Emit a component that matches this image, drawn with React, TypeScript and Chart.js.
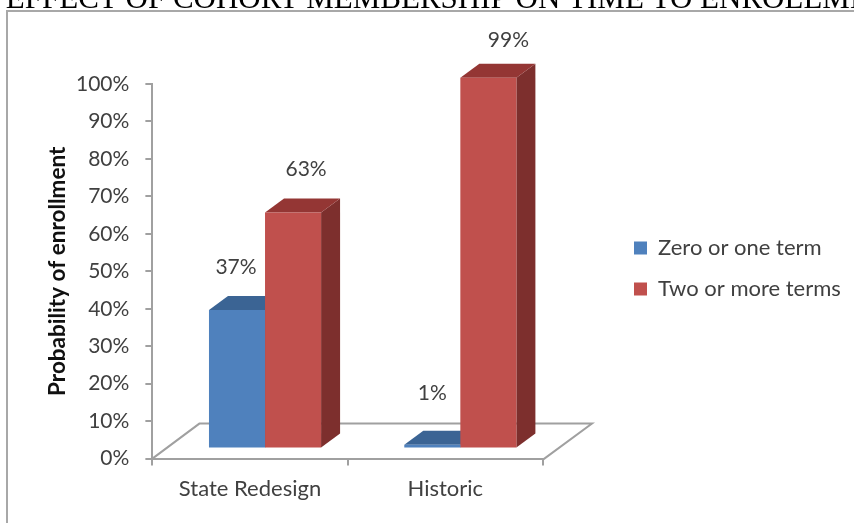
import React, { useEffect, useRef } from "react";
import { Chart, registerables } from "chart.js";

Chart.register(...registerables);

const categories = ["State Redesign", "Historic"];
const seriesNames = ["Zero or one term", "Two or more terms"];
const zeroOrOneTerm = [37, 1];
const twoOrMoreTerms = [63, 99];
const yTicks = [0, 10, 20, 30, 40, 50, 60, 70, 80, 90, 100];
const titleText = "EFFECT OF COHORT MEMBERSHIP ON TIME TO ENROLLMENT";

const FONT = "Lato, Carlito, sans-serif";
const INK = "#404040";
const GRID = "#a0a0a0";
const DEPTH_X = 19;
const DEPTH_Y = 14;
const LIFT = 10;
const SHIFT = 15;
const LEGEND_PAD = 19;
const LABEL_NUDGE = [
  [[-1, -43], [0, -52]],
  [[13, -43], [20, -38]],
];

const fronts = ["#4f81bd", "#c0504d"];
const tops = ["#3b6494", "#943634"];
const sides = ["#345a88", "#7d2f2d"];

const poly = (ctx: CanvasRenderingContext2D, pts: number[][], fill: string) => {
  ctx.beginPath();
  pts.forEach((p, i) => (i ? ctx.lineTo(p[0], p[1]) : ctx.moveTo(p[0], p[1])));
  ctx.closePath();
  ctx.fillStyle = fill;
  ctx.fill();
};

const threeD = {
  id: "threeD",
  afterLayout(chart: any) {
    const lg = chart.legend;
    lg.left = 634 - LEGEND_PAD;
    lg.right = 854;
    lg.width = lg.right - lg.left;
    lg.top = 218;
    lg.bottom = 330;
    lg.height = 112;
  },
  beforeDraw(chart: any) {
    const { ctx } = chart;
    ctx.save();
    ctx.font = "31px 'Liberation Serif', serif";
    ctx.fillStyle = "#000";
    ctx.textAlign = "center";
    ctx.textBaseline = "alphabetic";
    ctx.fillText(titleText, 458, 8);
    ctx.restore();
  },
  beforeDatasetsDraw(chart: any) {
    const { ctx, chartArea: a } = chart;
    const y0 = a.bottom;
    ctx.save();
    ctx.strokeStyle = GRID;
    ctx.lineWidth = 2;
    ctx.beginPath();
    ctx.moveTo(a.left, y0);
    ctx.lineTo(a.left + 47, y0 - 35);
    ctx.lineTo(a.right + 49, y0 - 35);
    ctx.lineTo(a.right, y0 + 1);
    ctx.stroke();
    ctx.restore();

    ctx.save();
    ctx.translate(SHIFT, -LIFT);
    chart.data.datasets.forEach((_: any, d: number) => {
      chart.getDatasetMeta(d).data.forEach((el: any) => {
        const p = el.getProps(["x", "y", "base", "width"], true);
        const l = p.x - p.width / 2;
        const r = p.x + p.width / 2;
        poly(ctx, [[r, p.y], [r + DEPTH_X, p.y - DEPTH_Y], [r + DEPTH_X, p.base - DEPTH_Y], [r, p.base]], sides[d]);
        poly(ctx, [[l, p.y], [l + DEPTH_X, p.y - DEPTH_Y], [r + DEPTH_X, p.y - DEPTH_Y], [r, p.y]], tops[d]);
      });
    });
  },
  afterDatasetsDraw(chart: any) {
    const { ctx } = chart;
    ctx.restore();
    ctx.save();
    ctx.font = `21px ${FONT}`;
    ctx.fillStyle = INK;
    ctx.textAlign = "center";
    ctx.textBaseline = "middle";
    chart.data.datasets.forEach((ds: any, d: number) => {
      chart.getDatasetMeta(d).data.forEach((el: any, i: number) => {
        const p = el.getProps(["x", "y"], true);
        const [nx, ny] = LABEL_NUDGE[d][i];
        ctx.fillText(`${ds.data[i]}%`, p.x + SHIFT + nx, p.y - LIFT + ny);
      });
    });
    ctx.restore();
  },
};

export default function App() {
  const ref = useRef<HTMLCanvasElement>(null);
  useEffect(() => {
    const chart = new Chart(ref.current!, {
      type: "bar",
      data: {
        labels: categories,
        datasets: [
          { label: seriesNames[0], data: zeroOrOneTerm, backgroundColor: fronts[0] },
          { label: seriesNames[1], data: twoOrMoreTerms, backgroundColor: fronts[1] },
        ],
      },
      plugins: [threeD],
      options: {
        animation: false,
        responsive: false,
        layout: { padding: { left: 40, top: 84, right: 311, bottom: 11 } },
        datasets: { bar: { barPercentage: 1, categoryPercentage: 0.574 } },
        plugins: {
          tooltip: { enabled: false },
          title: { display: false },
          legend: {
            position: "chartArea",
            align: "start",
            labels: {
              boxWidth: 13,
              boxHeight: 13,
              padding: LEGEND_PAD,
              color: INK,
              font: { family: FONT, size: 22 },
            },
          },
        },
        scales: {
          x: {
            grid: { display: true, drawOnChartArea: false, color: GRID, lineWidth: 2, tickLength: 7, offset: true },
            border: { color: GRID, width: 2 },
            ticks: { color: INK, font: { family: FONT, size: 22 }, padding: 10 },
          },
          y: {
            min: 0,
            max: 100,
            afterBuildTicks: (s: any) => { s.ticks = yTicks.map((value) => ({ value })); },
            grid: { display: true, drawOnChartArea: false, color: GRID, lineWidth: 2, tickLength: 7 },
            border: { color: GRID, width: 2 },
            ticks: { color: INK, font: { family: FONT, size: 21 }, padding: 16, callback: (v: any) => `${v}%` },
            title: {
              display: true,
              text: "Probability of enrollment",
              color: "#111",
              font: { family: FONT, size: 22.5, weight: "bold" },
              padding: { top: 4, bottom: -11 },
            },
          },
        },
      },
    } as any);
    return () => chart.destroy();
  }, []);
  return (
    <div style={{ position: "fixed", left: 0, top: 0, width: 854, height: 523, background: "#fff", overflow: "hidden" }}>
      <canvas ref={ref} width={854} height={523} style={{ display: "block", width: 854, height: 523, filter: "blur(0.4px)" }} />
      <div style={{ position: "absolute", left: 6, top: 10, width: 860, height: 530, borderLeft: "2px solid #a8a8a8", borderTop: "2px solid #a8a8a8" }} />
    </div>
  );
}
